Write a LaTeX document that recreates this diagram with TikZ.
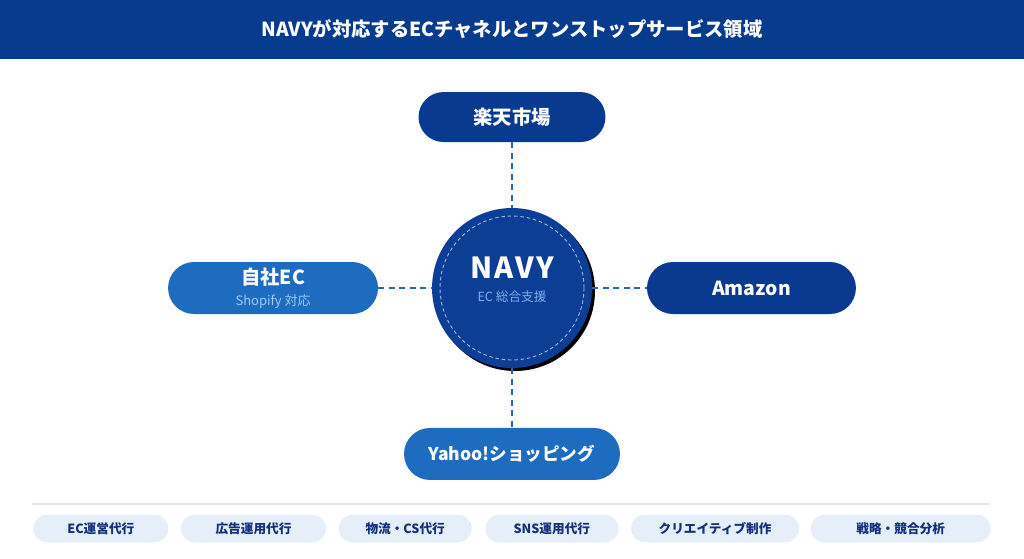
\documentclass[tikz,border=0pt]{standalone}
\usepackage{fontspec}
\setmainfont{Noto Sans CJK JP}
\usepackage{xcolor}
\usetikzlibrary{positioning, shadows}

\definecolor{navybar}{HTML}{073B8E}
\definecolor{navydark}{HTML}{0A3A8F}
\definecolor{navyhub}{HTML}{0C3E96}
\definecolor{bluemid}{HTML}{1E6CC0}
\definecolor{linkblue}{HTML}{1B6AC0}
\definecolor{subtext}{HTML}{A4C8F2}
\definecolor{hubtext}{HTML}{7EAEE8}
\definecolor{pillfill}{HTML}{E6EEFA}
\definecolor{pilltext}{HTML}{13317A}
\definecolor{sepgray}{HTML}{E3E6EB}

\begin{document}
\begin{tikzpicture}[
x=0.02cm, y=-0.02cm,
node distance=1.2cm and 1.1cm,
channel/.style={rectangle, rounded corners=0.52cm, minimum height=1.04cm, inner sep=0pt, outer sep=0pt, align=center, text=white, font=\bfseries\fontsize{11}{13}\selectfont},
mainch/.style={channel, fill=navydark},
subch/.style={channel, fill=bluemid},
hub/.style={circle, fill=navyhub, minimum size=3.2cm, inner sep=0pt, outer sep=0pt, drop shadow={shadow xshift=0.06cm, shadow yshift=-0.06cm, fill=black, opacity=1}},
link/.style={draw=linkblue, line width=1.6pt, dash pattern=on 3.4pt off 2.6pt},
service/.style={rectangle, rounded corners=0.27cm, fill=pillfill, text=pilltext, minimum height=0.55cm, inner sep=0pt, font=\bfseries\fontsize{7.2}{9}\selectfont}
]
\useasboundingbox (0,0) rectangle (1024,558);

% Title
\node[fill=navybar, minimum width=20.48cm, minimum height=1.18cm, inner sep=0pt, text=white, font=\bfseries\fontsize{11}{13}\selectfont] (title) at (512,29.5) {NAVYが対応するECチャネルとワンストップサービス領域};

% Hub
\node[hub] (navy) at (512,288) {};
\draw[hubtext!80!white, line width=0.5pt, dash pattern=on 2pt off 1.6pt] (navy.center) circle[radius=1.44cm];
\node[text=white, font=\bfseries\fontsize{16.5}{18}\selectfont] (navyname) at ([yshift=0.4cm]navy.center) {N\kern1.2pt A\kern1.2pt V\kern1.2pt Y};
\node[text=hubtext, font=\fontsize{7.2}{9}\selectfont] (navysub) at ([yshift=-0.18cm]navy.center) {EC 総合支援};

% Channels
\node[mainch, minimum width=3.74cm, minimum height=1.0cm, rounded corners=0.5cm, above=1.32cm of navy] (rakuten) {楽天市場};
\node[mainch, minimum width=4.18cm, right=1.1cm of navy] (amazon) {Amazon};
\node[subch, minimum width=4.2cm, left=1.08cm of navy] (jisha) {自社EC\\[-1pt]{\mdseries\fontsize{7.4}{9}\selectfont\color{subtext}Shopify 対応}};
\node[subch, minimum width=4.32cm, below=1.2cm of navy] (yahoo) {\fontsize{10}{12}\selectfont Yahoo!ショッピング};

% Links
\draw[link] (rakuten) -- (navy);
\draw[link] (jisha) -- (navy);
\draw[link] (navy) -- (amazon);
\draw[link] (navy) -- (yahoo);

% Services
\draw[sepgray, line width=0.6pt] (32,504) -- (990,504);
\node[service, minimum width=2.7cm, anchor=west] (s1) at (33,528.5) {EC運営代行};
\node[service, minimum width=2.9cm, right=0.24cm of s1] (s2) {広告運用代行};
\node[service, minimum width=2.66cm, right=0.24cm of s2] (s3) {物流・CS代行};
\node[service, minimum width=2.66cm, right=0.26cm of s3] (s4) {SNS運用代行};
\node[service, minimum width=3.36cm, right=0.24cm of s4] (s5) {クリエイティブ制作};
\node[service, minimum width=3.6cm, right=0.22cm of s5] (s6) {戦略・競合分析};

\end{tikzpicture}
\end{document}
